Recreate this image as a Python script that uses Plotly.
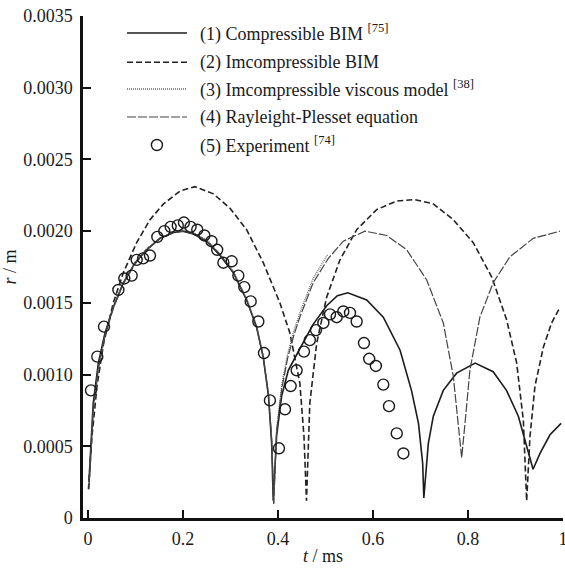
import plotly.graph_objects as go

# ---------------- data (t in ms, r in m) ----------------
t_comp = [0.002, 0.011, 0.0218, 0.0358, 0.0533, 0.0744, 0.099, 0.1235, 0.1516, 0.18, 0.2, 0.222,
          0.25, 0.278, 0.306, 0.334, 0.355, 0.369, 0.38, 0.3867, 0.39,
          0.397, 0.4077, 0.4217, 0.446, 0.474, 0.5025, 0.525, 0.547, 0.5867, 0.6217, 0.657,
          0.681, 0.6958, 0.7046, 0.707,
          0.7165, 0.727, 0.748, 0.776, 0.815, 0.853, 0.881, 0.906, 0.9235, 0.937,
          0.9516, 0.9726, 0.996]
r_comp = [0.00025, 0.0008, 0.00108, 0.00129, 0.00147, 0.00164, 0.00178, 0.00187, 0.00195, 0.00199, 0.002, 0.00198,
          0.00193, 0.00183, 0.00171, 0.00152, 0.00133, 0.00112, 0.00085, 0.00052, 0.00012,
          0.00057, 0.00085, 0.00103, 0.00118, 0.00135, 0.00148, 0.00155, 0.00157, 0.00152, 0.0014, 0.00117,
          0.00089, 0.00066, 0.00038, 0.00014,
          0.00052, 0.00071, 0.00089, 0.00101, 0.00108, 0.00102, 0.00089, 0.00071, 0.0005, 0.00034,
          0.00045, 0.00058, 0.00066]

t_incomp = [0.001, 0.0084, 0.019, 0.033, 0.0533, 0.0744, 0.1025, 0.1305, 0.159, 0.194, 0.225, 0.264,
            0.299, 0.334, 0.369, 0.404, 0.425, 0.446, 0.4547, 0.46,
            0.467, 0.4815, 0.5025, 0.5305, 0.5656, 0.6077, 0.65, 0.688, 0.727, 0.769, 0.811, 0.85,
            0.8815, 0.9025, 0.9165, 0.9235,
            0.9305, 0.941, 0.9586, 0.976, 0.9937]
r_incomp = [0.0002, 0.00057, 0.00092, 0.00122, 0.0015, 0.00171, 0.00192, 0.00208, 0.00219, 0.00228, 0.00231, 0.00226,
            0.00216, 0.00201, 0.00178, 0.0015, 0.00129, 0.00094, 0.00057, 0.00012,
            0.0008, 0.00122, 0.00154, 0.0018, 0.00201, 0.00215, 0.00221, 0.00222, 0.00219, 0.00208, 0.00192, 0.00168,
            0.00138, 0.00108, 0.00068, 0.00012,
            0.00057, 0.00092, 0.00119, 0.00136, 0.00147]

t_visc = [0.002, 0.011, 0.022, 0.036, 0.053, 0.074, 0.099, 0.1235, 0.152, 0.18, 0.2, 0.222,
          0.25, 0.278, 0.306, 0.334, 0.355, 0.369, 0.38, 0.387, 0.391,
          0.397, 0.408, 0.42, 0.433, 0.446, 0.474, 0.505]
r_visc = [0.00022, 0.00077, 0.00105, 0.00128, 0.00147, 0.00164, 0.00178, 0.00188, 0.00195, 0.002, 0.00201, 0.00199,
          0.00194, 0.00184, 0.00172, 0.00153, 0.00134, 0.00113, 0.00087, 0.00054, 0.0001,
          0.00062, 0.00093, 0.00114, 0.0013, 0.00143, 0.00167, 0.00184]

t_rp = [0.002, 0.011, 0.022, 0.036, 0.053, 0.074, 0.099, 0.1235, 0.152, 0.18, 0.2, 0.222,
        0.25, 0.278, 0.306, 0.334, 0.355, 0.369, 0.38, 0.387, 0.391,
        0.397, 0.408, 0.42, 0.433, 0.446, 0.474, 0.506, 0.5375, 0.583, 0.6288, 0.671, 0.713,
        0.748, 0.769, 0.7796, 0.7867,
        0.7937, 0.804, 0.825, 0.853, 0.888, 0.9375, 0.9937]
r_rp = [0.0002, 0.00075, 0.00104, 0.00127, 0.00146, 0.00163, 0.00177, 0.00187, 0.00195, 0.00199, 0.002, 0.00198,
        0.00193, 0.00184, 0.00171, 0.00152, 0.00133, 0.00112, 0.00086, 0.00053, 0.0001,
        0.0006, 0.0009, 0.00111, 0.00127, 0.0014, 0.00164, 0.00181, 0.00193, 0.002, 0.00197, 0.00187, 0.00166,
        0.00136, 0.00099, 0.00066, 0.00042,
        0.00066, 0.00103, 0.0014, 0.00164, 0.00182, 0.00195, 0.002]

t_exp = [0.0063, 0.0196, 0.0337, 0.064, 0.0765, 0.092, 0.1025, 0.116, 0.1305, 0.146, 0.1607, 0.174,
         0.189, 0.202, 0.216, 0.23, 0.245, 0.26, 0.272, 0.285, 0.3025, 0.3165, 0.329, 0.3425,
         0.3586, 0.3705, 0.383, 0.402, 0.4147, 0.4267, 0.4393, 0.4547, 0.467, 0.48, 0.4955,
         0.5095, 0.5235, 0.5375, 0.5516, 0.5656, 0.581, 0.592, 0.606, 0.6217, 0.6337, 0.65, 0.664]
r_exp = [0.00089, 0.001125, 0.001334, 0.00159, 0.00167, 0.00169, 0.0018, 0.00181, 0.00183, 0.00196, 0.002, 0.00203,
         0.00204, 0.00206, 0.00203, 0.00201, 0.00197, 0.00193, 0.00187, 0.00178, 0.00179, 0.00169, 0.00161, 0.00151,
         0.00137, 0.00115, 0.00082, 0.000486, 0.000758, 0.00092, 0.00103, 0.00116, 0.00124, 0.00131, 0.00136,
         0.00142, 0.0014, 0.00144, 0.00143, 0.00137, 0.00122, 0.00111, 0.00106, 0.00093, 0.00078, 0.00059, 0.00045]

x_tickvals = [0, 0.2, 0.4, 0.6, 0.8, 1]
x_ticktext = ["0", "0.2", "0.4", "0.6", "0.8", "1"]
y_tickvals = [0, 0.0005, 0.001, 0.0015, 0.002, 0.0025, 0.003, 0.0035]
y_ticktext = ["0", "0.0005", "0.0010", "0.0015", "0.0020", "0.0025", "0.0030", "0.0035"]

legend_labels = [
    "(1) Compressible BIM <sup>[75]</sup>",
    "(2) Imcompressible BIM",
    "(3) Imcompressible viscous model <sup>[38]</sup>",
    "(4) Rayleight-Plesset equation",
    "(5) Experiment <sup>[74]</sup>",
]

# ---------------- styles ----------------
FONT = "Liberation Serif, Times New Roman, serif"
INK = "#1a1a1a"
styles = [
    dict(color="#1c1c1c", width=1.6, dash="solid"),
    dict(color="#222222", width=1.6, dash="6px,3px"),
    dict(color="#666666", width=1.3, dash="1px,1px"),
    dict(color="#444444", width=1.2, dash="9px,2px"),
]

fig = go.Figure()
series = [(t_comp, r_comp), (t_incomp, r_incomp), (t_visc, r_visc), (t_rp, r_rp)]
for (tx, ry), st in zip(series, styles):
    fig.add_trace(go.Scatter(x=tx, y=ry, mode="lines", line=st, showlegend=False))

fig.add_trace(go.Scatter(x=t_exp, y=r_exp, mode="markers", showlegend=False,
                         marker=dict(symbol="circle-open", size=11, color=INK,
                                     line=dict(width=1.4, color=INK))))

# ---------------- manual legend ----------------
shapes = []
annotations = []
row_y = [0.966, 0.908, 0.8546, 0.7988, 0.743]
x0, x1, xt = 0.0917, 0.2167, 0.2396
for i, lab in enumerate(legend_labels):
    y = row_y[i]
    if i < 4:
        shapes.append(dict(type="line", xref="paper", yref="paper", x0=x0, x1=x1, y0=y, y1=y,
                           line=styles[i]))
    else:
        cx = 0.154
        shapes.append(dict(type="circle", xref="paper", yref="paper",
                           x0=cx - 0.0115, x1=cx + 0.0115, y0=y - 0.011, y1=y + 0.011,
                           line=dict(color=INK, width=1.4)))
    annotations.append(dict(xref="paper", yref="paper", x=xt, y=y, text=lab, showarrow=False,
                            xanchor="left", yanchor="middle",
                            font=dict(family=FONT, size=18, color=INK)))

fig.update_layout(
    width=565, height=570,
    margin=dict(l=83, r=2, t=16, b=52),
    paper_bgcolor="white", plot_bgcolor="white",
    font=dict(family=FONT, size=18, color=INK),
    shapes=shapes, annotations=annotations,
    xaxis=dict(range=[-0.0105, 1.0], tickvals=x_tickvals, ticktext=x_ticktext,
               automargin=False, ticklabeloverflow="allow", ticklabelstandoff=3,
               showgrid=False, zeroline=False, showline=True, linecolor="#111", linewidth=2.5,
               ticks="inside", ticklen=8, tickwidth=2, tickcolor="#111",
               title=dict(text="<i>t</i> / ms", standoff=2, font=dict(size=18))),
    yaxis=dict(range=[0, 0.0035], tickvals=y_tickvals, ticktext=y_ticktext,
               automargin=False, ticklabeloverflow="allow", ticklabelstandoff=4,
               showgrid=False, zeroline=False, showline=True, linecolor="#111", linewidth=2.5,
               ticks="inside", ticklen=8, tickwidth=2, tickcolor="#111",
               title=dict(text="<i>r</i> / m", standoff=2, font=dict(size=18))),
)

fig.write_html("out.html", config={"displayModeBar": False},
               post_script="document.body.style.margin='0';document.body.style.overflow='hidden';")
